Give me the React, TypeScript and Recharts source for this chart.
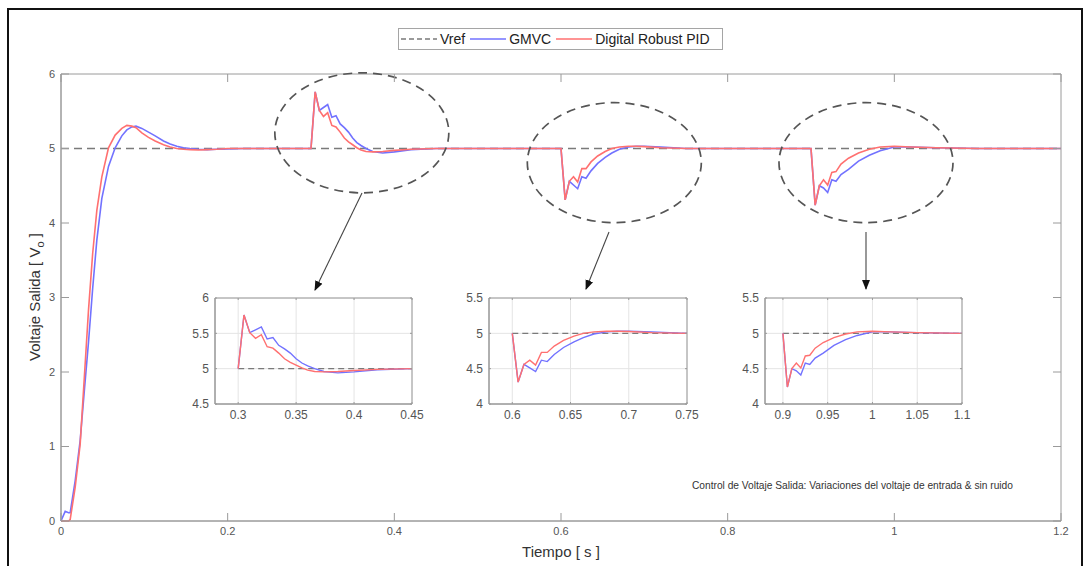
import React from "react";
import {
  LineChart,
  Line,
  XAxis,
  YAxis,
  CartesianGrid,
  ReferenceArea,
  ReferenceDot,
} from "recharts";

// sample times [s] shared by both controllers
const time = [
  0, 0.005, 0.009, 0.011, 0.017, 0.023, 0.028, 0.033, 0.038, 0.043, 0.049, 0.057, 0.065, 0.073, 0.079,
  0.085, 0.09, 0.097, 0.105, 0.113, 0.123, 0.131, 0.139, 0.147, 0.155, 0.165, 0.175, 0.187, 0.2, 0.22,
  0.3, 0.305, 0.31, 0.315, 0.32, 0.325, 0.33, 0.335, 0.34, 0.345, 0.35, 0.355, 0.36, 0.366, 0.374, 0.386,
  0.4, 0.42, 0.45,
  0.6, 0.605, 0.61, 0.615, 0.62, 0.625, 0.63, 0.636, 0.644, 0.653, 0.661, 0.67, 0.681, 0.69, 0.7, 0.72,
  0.75,
  0.9, 0.905, 0.91, 0.915, 0.92, 0.925, 0.93, 0.936, 0.945, 0.957, 0.97, 0.983, 1.0, 1.02, 1.05, 1.1, 1.2,
];

const gmvc = [
  0, 0.13, 0.11, 0.11, 0.54, 1.08, 1.75, 2.4, 3.12, 3.77, 4.33, 4.76, 5.01, 5.17, 5.25,
  5.29, 5.3, 5.27, 5.22, 5.17, 5.1, 5.06, 5.03, 5.01, 5.0, 4.99, 4.985, 4.99, 4.995, 5.0,
  5.0, 5.76, 5.51, 5.55, 5.59, 5.42, 5.44, 5.33, 5.28, 5.22, 5.14, 5.08, 5.04, 5.0, 4.96, 4.94,
  4.955, 4.985, 5.0,
  5.0, 4.31, 4.56, 4.51, 4.46, 4.62, 4.6, 4.7, 4.8, 4.88, 4.94, 4.99, 5.02, 5.03, 5.03, 5.02,
  5.0,
  5.0, 4.24, 4.5, 4.47, 4.41, 4.58, 4.56, 4.65, 4.72, 4.83, 4.91, 4.97, 5.02, 5.02, 5.01, 5.0, 5.0,
];

const robustPid = [
  0, 0, 0, 0.02, 0.45, 1.03, 1.93, 2.83, 3.59, 4.17, 4.62, 5.01, 5.18, 5.27, 5.31,
  5.3, 5.28, 5.21, 5.15, 5.1, 5.05, 5.02, 5.0, 4.99, 4.985, 4.98, 4.985, 4.99, 5.0, 5.0,
  5.0, 5.76, 5.51, 5.43, 5.48, 5.31, 5.29, 5.22, 5.14, 5.09, 5.05, 5.01, 4.98, 4.96, 4.955, 4.96,
  4.975, 4.99, 5.0,
  5.0, 4.31, 4.56, 4.62, 4.55, 4.73, 4.73, 4.82, 4.9, 4.96, 5.0, 5.02, 5.03, 5.03, 5.025, 5.01,
  5.0,
  5.0, 4.24, 4.5, 4.58, 4.51, 4.68, 4.69, 4.79, 4.87, 4.94, 4.99, 5.02, 5.03, 5.02, 5.01, 5.0, 5.0,
];

const vrefTime = [0, 1.2];
const vrefLevel = [5, 5];

const mainXTicks = [0, 0.2, 0.4, 0.6, 0.8, 1, 1.2];
const mainYTicks = [0, 1, 2, 3, 4, 5, 6];

// zoomed windows: axis limits and the time span that is re-plotted
const zoomXDomains = [[0.28, 0.45], [0.58, 0.75], [0.88, 1.1]];
const zoomYDomains = [[4.5, 6], [4, 5.5], [4, 5.5]];
const zoomSpans = [[0.3, 0.45], [0.6, 0.75], [0.9, 1.1]];
const zoomXTicks = [
  [0.3, 0.35, 0.4, 0.45],
  [0.6, 0.65, 0.7, 0.75],
  [0.9, 0.95, 1, 1.05, 1.1],
];
const zoomYTicks = [
  [4.5, 5, 5.5, 6],
  [4, 4.5, 5, 5.5],
  [4, 4.5, 5, 5.5],
];

// centres of the dashed highlight ellipses (data units)
const spotT = [0.361, 0.664, 0.966];
const spotV = [5.21, 4.81, 4.81];

const rows = time.map((t, i) => ({ t, gmvc: gmvc[i], pid: robustPid[i] }));
const vrefRows = vrefTime.map((t, i) => ({ t, v: vrefLevel[i] }));

const FONT = '"Liberation Sans", Arial, Helvetica, sans-serif';
const AXIS = "#9a9a9a";
const TEXT = "#555";
const BLUE = "#7272ff";
const RED = "#ff7070";
const REF = "#7a7a7a";

type Box = { left: number; right: number; top: number; bottom: number };

const fmt = (v: number) => String(v);

function makeXTick(box: Box, len: number, size: number) {
  return (props: any) => {
    const { x, payload } = props;
    return (
      <g>
        <line x1={x} x2={x} y1={box.bottom} y2={box.bottom - len} stroke={AXIS} />
        <line x1={x} x2={x} y1={box.top} y2={box.top + len} stroke={AXIS} />
        <text x={x} y={box.bottom + 6} dy="0.71em" textAnchor="middle" fill={TEXT} fontSize={size} fontFamily={FONT}>
          {fmt(payload.value)}
        </text>
      </g>
    );
  };
}

function makeYTick(box: Box, len: number, size: number) {
  return (props: any) => {
    const { y, payload } = props;
    return (
      <g>
        <line x1={box.left} x2={box.left + len} y1={y} y2={y} stroke={AXIS} />
        <line x1={box.right} x2={box.right - len} y1={y} y2={y} stroke={AXIS} />
        <text x={box.left - 6} y={y} dy="0.35em" textAnchor="end" fill={TEXT} fontSize={size} fontFamily={FONT}>
          {fmt(payload.value)}
        </text>
      </g>
    );
  };
}

const ellipseShape = (props: any) => (
  <ellipse
    cx={props.cx}
    cy={props.cy}
    rx={87}
    ry={60}
    fill="none"
    stroke="#555"
    strokeWidth={1.7}
    strokeDasharray="9 6"
  />
);

const mainBox: Box = { left: 61, right: 1061, top: 74, bottom: 521 };

// inset plot rectangles on the page
const insetRects = [
  { left: 215, right: 412, top: 298, bottom: 404 },
  { left: 489, right: 687, top: 298, bottom: 404 },
  { left: 765, right: 962, top: 298, bottom: 404 },
];

function Inset({ idx }: { idx: number }) {
  const r = insetRects[idx];
  // outer offsets (margin + 1px axis size) around the plot rectangle
  const padL = 42;
  const padT = 6;
  const padR = 14;
  const padB = 26;
  const w = r.right - r.left;
  const h = r.bottom - r.top;
  const box: Box = { left: padL, right: padL + w, top: padT, bottom: padT + h };
  const [x0, x1] = zoomXDomains[idx];
  const [y0, y1] = zoomYDomains[idx];
  const [s0, s1] = zoomSpans[idx];
  const part = rows.filter((d) => d.t >= s0 - 1e-9 && d.t <= s1 + 1e-9);
  const refPart = [
    { t: s0, v: vrefLevel[0] },
    { t: s1, v: vrefLevel[1] },
  ];
  return (
    <div style={{ position: "absolute", left: r.left - padL, top: r.top - padT }}>
      <LineChart
        width={w + padL + padR}
        height={h + padT + padB}
        data={part}
        margin={{ top: padT, right: padR, bottom: padB - 1, left: padL - 1 }}
      >
        <CartesianGrid stroke="#e4e4e4" strokeWidth={1} />
        <XAxis
          dataKey="t"
          type="number"
          domain={[x0, x1]}
          allowDataOverflow
          ticks={zoomXTicks[idx]}
          interval={0}
          height={1}
          tickSize={0}
          tickLine={false}
          axisLine={{ stroke: AXIS }}
          tick={makeXTick(box, 2, 12)}
        />
        <YAxis
          type="number"
          domain={[y0, y1]}
          allowDataOverflow
          ticks={zoomYTicks[idx]}
          interval={0}
          width={1}
          tickSize={0}
          tickLine={false}
          axisLine={{ stroke: AXIS }}
          tick={makeYTick(box, 2, 12)}
        />
        <ReferenceArea x1={x0} x2={x1} y1={y0} y2={y1} fill="none" stroke={AXIS} ifOverflow="visible" />
        <Line data={refPart} dataKey="v" stroke={REF} strokeWidth={1.3} strokeDasharray="6 4" dot={false} activeDot={false} isAnimationActive={false} />
        <Line dataKey="gmvc" stroke={BLUE} strokeWidth={1.4} dot={false} activeDot={false} isAnimationActive={false} />
        <Line dataKey="pid" stroke={RED} strokeWidth={1.4} dot={false} activeDot={false} isAnimationActive={false} />
      </LineChart>
    </div>
  );
}

function LegendSample({ color, dash }: { color: string; dash?: string }) {
  return (
    <svg width={36} height={10} style={{ display: "block" }}>
      <line x1={0} x2={36} y1={5} y2={5} stroke={color} strokeWidth={1.4} strokeDasharray={dash} />
    </svg>
  );
}

export default function App() {
  const itemStyle: React.CSSProperties = { display: "flex", alignItems: "center", gap: 3 };
  return (
    <div
      style={{
        position: "absolute",
        left: 0,
        top: 0,
        width: 1086,
        height: 566,
        background: "#fff",
        overflow: "hidden",
        fontFamily: FONT,
      }}
    >
      <div
        style={{
          position: "absolute",
          left: 7,
          top: 8,
          width: 1076,
          height: 570,
          border: "2px solid #111",
          boxSizing: "border-box",
        }}
      />

      <div style={{ position: "absolute", left: 0, top: 0 }}>
        <LineChart width={1086} height={566} data={rows} margin={{ top: 74, right: 25, bottom: 44, left: 60 }}>
          <XAxis
            dataKey="t"
            type="number"
            domain={[0, 1.2]}
            ticks={mainXTicks}
            interval={0}
            height={1}
            tickSize={0}
            tickLine={false}
            axisLine={{ stroke: AXIS }}
            tick={makeXTick(mainBox, 8, 11)}
          />
          <YAxis
            type="number"
            domain={[0, 6]}
            ticks={mainYTicks}
            interval={0}
            width={1}
            tickSize={0}
            tickLine={false}
            axisLine={{ stroke: AXIS }}
            tick={makeYTick(mainBox, 8, 11)}
          />
          <ReferenceArea x1={0} x2={1.2} y1={0} y2={6} fill="none" stroke={AXIS} ifOverflow="visible" />
          <Line data={vrefRows} dataKey="v" stroke={REF} strokeWidth={1.4} strokeDasharray="8 5" dot={false} activeDot={false} isAnimationActive={false} />
          <Line dataKey="gmvc" stroke={BLUE} strokeWidth={1.6} dot={false} activeDot={false} isAnimationActive={false} />
          <Line dataKey="pid" stroke={RED} strokeWidth={1.6} dot={false} activeDot={false} isAnimationActive={false} />
          {spotT.map((t, i) => (
            <ReferenceDot key={i} x={t} y={spotV[i]} r={1} ifOverflow="visible" shape={ellipseShape} />
          ))}
        </LineChart>
      </div>

      {/* legend */}
      <div
        style={{
          position: "absolute",
          left: 398,
          top: 28,
          width: 325,
          height: 22,
          border: "1px solid #a5a5a5",
          boxSizing: "border-box",
          background: "#fff",
          display: "flex",
          alignItems: "center",
          paddingLeft: 2,
          gap: 5,
          fontSize: 14,
          color: "#222",
          whiteSpace: "nowrap",
        }}
      >
        <div style={itemStyle}>
          <LegendSample color={REF} dash="5 3" />
          <span>Vref</span>
        </div>
        <div style={itemStyle}>
          <LegendSample color={BLUE} />
          <span>GMVC</span>
        </div>
        <div style={itemStyle}>
          <LegendSample color={RED} />
          <span>Digital Robust PID</span>
        </div>
      </div>

      {/* axis titles */}
      <div
        style={{
          position: "absolute",
          left: 36,
          top: 297,
          transform: "translate(-50%, -50%) rotate(-90deg)",
          fontSize: 15,
          color: "#333",
          whiteSpace: "nowrap",
        }}
      >
        Voltaje Salida [ V<sub style={{ fontSize: 11 }}>o</sub> ]
      </div>
      <div
        style={{
          position: "absolute",
          left: 561,
          top: 551,
          transform: "translate(-50%, -50%)",
          fontSize: 15,
          color: "#333",
          whiteSpace: "nowrap",
        }}
      >
        Tiempo [ s ]
      </div>

      <div
        style={{
          position: "absolute",
          left: 692,
          top: 480,
          fontSize: 10.2,
          color: "#333",
          whiteSpace: "nowrap",
        }}
      >
        Control de Voltaje Salida: Variaciones del voltaje de entrada &amp; sin ruido
      </div>

      <Inset idx={0} />
      <Inset idx={1} />
      <Inset idx={2} />

      {/* arrows from the highlighted regions to the zoomed views */}
      <svg width={1086} height={566} style={{ position: "absolute", left: 0, top: 0, pointerEvents: "none" }}>
        <defs>
          <marker id="head" viewBox="0 0 10 10" refX="9" refY="5" markerWidth="9" markerHeight="9" orient="auto">
            <path d="M0,1 L10,5 L0,9 z" fill="#111" />
          </marker>
        </defs>
        <line x1={362} y1={193} x2={315} y2={290} stroke="#444" strokeWidth={1.1} markerEnd="url(#head)" />
        <line x1={609} y1={232} x2={586} y2={289} stroke="#444" strokeWidth={1.1} markerEnd="url(#head)" />
        <line x1={866} y1={232} x2={866} y2={289} stroke="#444" strokeWidth={1.1} markerEnd="url(#head)" />
      </svg>
    </div>
  );
}
